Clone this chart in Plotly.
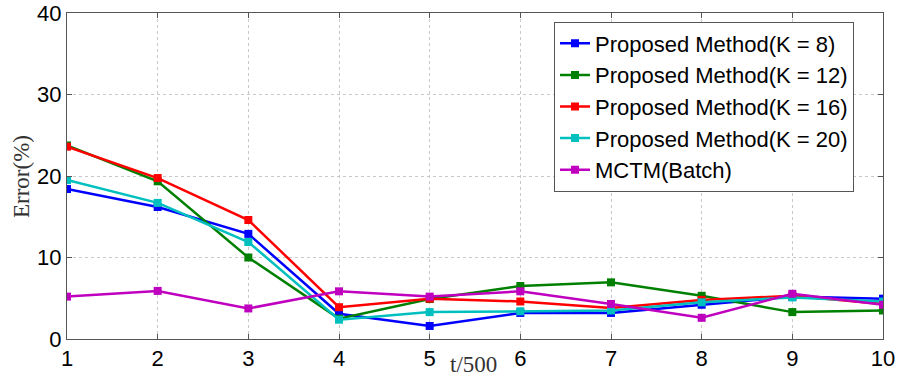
import plotly.graph_objects as go

x_vals = [1, 2, 3, 4, 5, 6, 7, 8, 9, 10]
k8 = [18.4, 16.2, 12.9, 3.1, 1.6, 3.2, 3.2, 4.2, 5.2, 4.95]
k12 = [23.75, 19.35, 10.0, 2.5, 4.9, 6.5, 6.95, 5.3, 3.3, 3.5]
k16 = [23.6, 19.75, 14.6, 3.9, 4.95, 4.6, 3.8, 4.8, 5.3, 4.3]
k20 = [19.5, 16.7, 11.9, 2.37, 3.3, 3.4, 3.5, 4.5, 5.1, 4.6]
batch = [5.2, 5.9, 3.75, 5.85, 5.2, 5.85, 4.3, 2.6, 5.55, 4.2]

series_names = ["Proposed Method(K = 8)", "Proposed Method(K = 12)",
                "Proposed Method(K = 16)", "Proposed Method(K = 20)", "MCTM(Batch)"]
series_vals = [k8, k12, k16, k20, batch]
colors = ["#0000FF", "#008000", "#FF0000", "#00BFBF", "#BF00BF"]

fig = go.Figure()
for name, vals, c in zip(series_names, series_vals, colors):
    fig.add_trace(go.Scatter(
        x=x_vals, y=vals, name=name, mode="lines+markers",
        line=dict(color=c, width=2.5),
        marker=dict(symbol="square", size=8, color=c),
    ))

axis_common = dict(
    showline=True, linecolor="#555555", linewidth=1, mirror="ticks",
    ticks="inside", ticklen=5, tickcolor="#555555",
    showgrid=True, gridcolor="#C8C8C8", griddash="dot", gridwidth=1,
    zeroline=False, automargin=False,
    tickfont=dict(family="Liberation Sans, Arial", size=22, color="black"),
)

fig.update_xaxes(range=[1, 10], tickvals=x_vals, **axis_common)
fig.update_yaxes(range=[0, 40], tickvals=[0, 10, 20, 30, 40], **axis_common)

L, R, T, B = 67, 19, 13, 40
pw, ph = 902 - L - R, 379 - T - B

fig.update_layout(
    width=902, height=379,
    margin=dict(l=L, r=R, t=T, b=B),
    plot_bgcolor="white", paper_bgcolor="white",
    showlegend=True,
    legend=dict(
        x=(554 - L) / pw, y=1 - (21.5 - T) / ph, xanchor="left", yanchor="top",
        bgcolor="white", bordercolor="#555555", borderwidth=1,
        font=dict(family="Liberation Sans, Arial", size=22, color="black"),
        tracegroupgap=0, itemwidth=30,
    ),
    annotations=[
        dict(text="t/500", x=(473 - L) / pw, y=-(364 - (379 - B)) / ph,
             xref="paper", yref="paper", xanchor="center", yanchor="middle",
             showarrow=False,
             font=dict(family="Liberation Serif, Times New Roman", size=23, color="#333333")),
        dict(text="Error(%)", textangle=-90, x=(21 - L) / pw, y=1 - (177 - T) / ph,
             xref="paper", yref="paper", xanchor="center", yanchor="middle",
             showarrow=False,
             font=dict(family="Liberation Serif, Times New Roman", size=23, color="#333333")),
    ],
)

fig.write_html("out.html")
